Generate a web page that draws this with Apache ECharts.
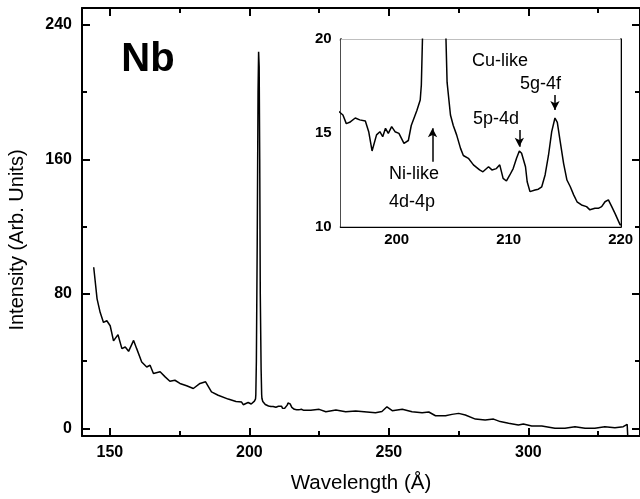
<!DOCTYPE html>
<html>
<head>
<meta charset="utf-8">
<script src="https://cdn.jsdelivr.net/npm/echarts@6/dist/echarts.min.js"></script>
<style>
html,body{margin:0;padding:0;background:#fff;}
#chart{width:640px;height:499px;}
</style>
</head>
<body>
<div id="chart"></div>
<script>
// ---- data ----
const wavelength = [
  144.2,145.4,146.5,147.7,148.9,150.1,151.3,152.9,154.3,155.5,156.7,158.5,159.6,161.4,163.2,164.4,165.6,168,169.8,171.5,
  173.3,175.1,177.5,179.9,182.3,184.3,186.4,188.8,192.4,
  195.2,195.5,195.8,196.3,196.7,197.2,197.5,197.8,198.2,198.5,198.75,199,199.25,199.55,199.85,200.2,200.65,201.04,201.3,201.8,
  202.1,202.2,202.3,202.5,202.8,203.1,203.3,203.5,203.7,203.9,204.2,204.4,204.5,204.8,205.05,205.35,205.7,205.95,206.4,206.85,
  207.4,207.7,208.2,208.5,208.9,209.2,209.5,209.8,210.1,210.4,210.7,210.95,211.15,211.5,211.65,211.9,212.35,212.65,212.95,213.25,
  213.55,213.84,214.13,214.34,214.6,214.9,215.2,215.5,215.8,216.1,216.5,216.95,217.25,217.7,218,218.3,218.6,218.9,219.2,219.5,219.95,
  222,225,227.4,231,234.5,238.1,241.1,245.2,247.5,249.3,251.2,254.8,258.3,261.9,264.3,266.7,270.3,272.6,275,277.4,
  281,284.5,287.5,289.9,292.9,296.4,298.2,301.2,304.8,309.5,313.1,316.7,320.3,323.8,327.4,331,334,335.4,335.6
];
const intensity = [
  95.8,77,69,63,64,61,52,55.7,47.4,48.4,45.8,52.3,47.4,39.5,36.5,37.5,32.6,33.6,30.6,28,
  28.6,26.7,25.3,23.7,26.7,27.7,21.7,19.7,17.4,
  15.96,15.5,15.57,15.8,15.7,15.64,15.07,14.04,14.9,15.07,14.8,15.25,14.98,15.34,15.07,14.98,14.45,14.6,15.4,16.2,
  16.76,17.56,20,40,110,200,224,215,160,80,35,20,17.7,15.96,15.4,14.9,14.18,13.8,13.65,13.3,
  13.03,12.93,13.2,13.03,13.1,13.3,12.58,12.44,12.76,13.1,13.65,14.04,13.92,13.2,12.4,11.87,11.96,12,12.13,12.76,
  13.8,15.07,15.8,15.57,14.54,13.38,12.49,12.13,11.7,11.33,11.16,11.07,10.9,10.98,10.98,11.07,11.33,11.43,11.07,10.7,10.1,
  10.8,11.3,9.9,10.9,9.9,10.3,9.9,9.3,10,12.8,10.5,11.3,9.9,9.3,9.7,7.5,7.5,8.3,8.9,7.9,
  5.5,4.9,5.5,4.0,3.0,2.0,2.6,1.4,1.4,0,0,1.0,0,0,1.0,0.4,1.0,2.4,-4.5
];
const mainXMajor = [150, 200, 250, 300];
const mainXMinor = [175, 225, 275, 325];
const mainYMajor = [0, 80, 160, 240];
const mainYMinor = [40, 120, 200];
const insetXMajor = [200, 210, 220];
const insetXMinor = [205, 215];
const insetYMajor = [10, 15, 20];
const insetYMinor = [12.5, 17.5];
// arrows: [x, tail y, tip y]
const arrows = [[203.2, 13.47, 15.25], [210.95, 15.16, 14.27], [214.13, 17.03, 16.23]];

const series = wavelength.map((w, i) => [w, intensity[i]]);

const FONT = 'Liberation Sans';
const black = '#000';

function axis(grid, pos, min, max, ticks, len, showLine, labels, labelSize, margin) {
  return {
    type: 'value', gridIndex: grid, position: pos, min: min, max: max,
    splitLine: {show: false},
    axisLine: {show: showLine, onZero: false, lineStyle: {color: black, width: 2}},
    axisTick: {show: true, inside: true, length: len, customValues: ticks, lineStyle: {color: black, width: 2}},
    axisLabel: labels ? {show: true, customValues: ticks, color: black, fontFamily: FONT, fontWeight: 'bold', fontSize: labelSize, margin: margin}
                      : {show: false},
    axisPointer: {show: false}
  };
}

const xAxis = [
  axis(0, 'bottom', 140, 340, mainXMajor, 8, true, true, 16, 9),
  axis(0, 'bottom', 140, 340, mainXMinor, 5, false, false),
  axis(0, 'top', 140, 340, mainXMajor, 8, true, false),
  axis(0, 'top', 140, 340, mainXMinor, 5, false, false),
  axis(1, 'bottom', 195, 220, insetXMajor, 8, true, true, 15, 6),
  axis(1, 'bottom', 195, 220, insetXMinor, 5, false, false),
  axis(1, 'top', 195, 220, insetXMajor, 8, true, false),
  axis(1, 'top', 195, 220, insetXMinor, 5, false, false)
];
xAxis[0].name = 'Wavelength (\u00C5)';
xAxis[0].nameLocation = 'middle';
xAxis[0].nameGap = 37;
xAxis[0].nameTextStyle = {color: black, fontFamily: FONT, fontSize: 20.5};

const yAxis = [
  axis(0, 'left', -4.56, 250, mainYMajor, 8, true, true, 16, 10),
  axis(0, 'left', -4.56, 250, mainYMinor, 5, false, false),
  axis(0, 'right', -4.56, 250, mainYMajor, 8, true, false),
  axis(0, 'right', -4.56, 250, mainYMinor, 5, false, false),
  axis(1, 'left', 10, 20, insetYMajor, 8, true, true, 15, 9),
  axis(1, 'left', 10, 20, insetYMinor, 5, false, false),
  axis(1, 'right', 10, 20, insetYMajor, 8, true, false),
  axis(1, 'right', 10, 20, insetYMinor, 5, false, false)
];

const chart = echarts.init(document.getElementById('chart'), null, {renderer: 'canvas'});
const annot = (text, x, y, size, bold, align) => ({
  type: 'text', x: x, y: y, z: 100,
  style: {text: text, fill: black, font: (bold ? 'bold ' : '') + size + 'px "' + FONT + '"', textAlign: align || 'left', textVerticalAlign: 'middle'}
});

chart.setOption({
  animation: false,
  backgroundColor: '#fff',
  grid: [
    {left: 82, top: 8, width: 560, height: 429.7, containLabel: false},
    {left: 340.7, top: 39.3, width: 280, height: 187.4, show: true, backgroundColor: '#fff', borderWidth: 0, z: 5}
  ],
  xAxis: xAxis,
  yAxis: yAxis,
  series: [
    {type: 'line', xAxisIndex: 0, yAxisIndex: 0, data: series, showSymbol: false, symbol: 'none',
     lineStyle: {color: black, width: 1.5}, clip: true, silent: true},
    {type: 'line', xAxisIndex: 4, yAxisIndex: 4, data: series, showSymbol: false, symbol: 'none', z: 10,
     lineStyle: {color: black, width: 1.5}, clip: true, silent: true,
     markLine: {silent: true, symbol: ['none', 'arrow'], symbolSize: [7, 9], label: {show: false},
       lineStyle: {color: black, width: 1.5, type: 'solid'},
       data: arrows.map(a => [{coord: [a[0], a[1]]}, {coord: [a[0], a[2]]}])}}
  ],
  graphic: [
    annot('Nb', 148, 60, 40, true, 'center'),
    annot('Cu-like', 472, 61, 18, false),
    annot('5g-4f', 520, 84, 18, false),
    annot('5p-4d', 473, 119, 18, false),
    annot('Ni-like', 389, 174, 18, false),
    annot('4d-4p', 389, 202, 18, false),
    {type: 'text', x: 17, y: 240, rotation: Math.PI / 2, z: 100,
     style: {text: 'Intensity (Arb. Units)', fill: black, font: '20px "' + FONT + '"', textAlign: 'center', textVerticalAlign: 'middle'}}
  ]
});
</script>
</body>
</html>
